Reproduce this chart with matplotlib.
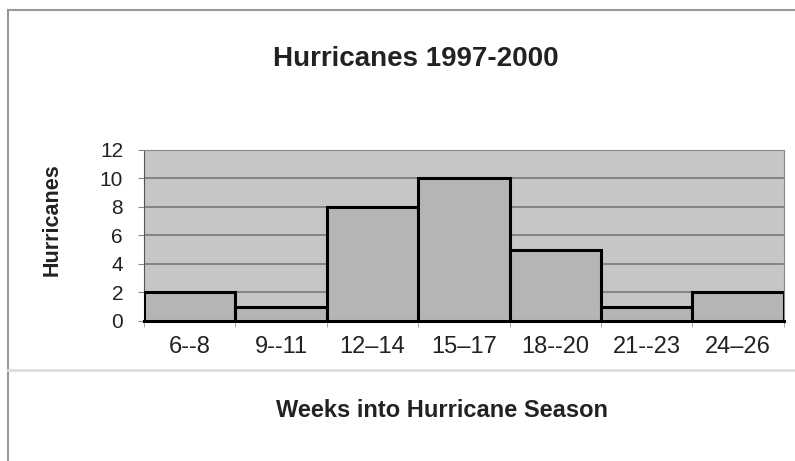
import numpy as np
import matplotlib.pyplot as plt
from matplotlib.lines import Line2D

plt.rcParams['font.family'] = ['Liberation Sans', 'DejaVu Sans']

# Data
weeks = ['6--8', '9--11', '12\u201314', '15\u201317', '18--20', '21--23', '24\u201326']
hurricanes = [2, 1, 8, 10, 5, 1, 2]

fig = plt.figure(figsize=(7.95, 4.61), dpi=100)
ax = fig.add_axes([0.181, 0.304, 0.805, 0.371])
ax.set_facecolor('#c6c6c6')

x = np.arange(len(weeks))
ax.bar(x, hurricanes, width=1.0, color='#b5b5b5', edgecolor='black', linewidth=2.2, zorder=3)

ax.set_xlim(-0.5, len(weeks) - 0.5)
ax.set_ylim(0, 12)
ax.set_yticks(range(0, 13, 2))
ax.yaxis.grid(True, color='#7f7f7f', linewidth=1.3, zorder=0)
ax.set_axisbelow(True)

ax.set_xticks(x)
ax.set_xticklabels(weeks, fontsize=17, color='#222222')
ax.set_xticks(np.arange(-0.5, len(weeks)), minor=True)
ax.tick_params(axis='x', which='major', length=0, pad=11)
ax.tick_params(axis='x', which='minor', length=4, color='#999999')
ax.tick_params(axis='y', labelsize=15, length=4, pad=11, color='#888888',
               labelcolor='#222222')

for s in ['top', 'right']:
    ax.spines[s].set_color('#888888')
ax.spines['left'].set_color('#555555')
ax.spines['bottom'].set_color('black')
ax.spines['bottom'].set_linewidth(2.2)

ax.set_ylabel('Hurricanes', fontsize=15.5, fontweight='bold', color='#222222',
              va='center')
ax.yaxis.set_label_coords(-0.144, 0.59)
fig.text(0.523, 0.872, 'Hurricanes 1997-2000', ha='center', va='center',
         fontsize=20, fontweight='bold', color='#222222')
fig.text(0.556, 0.11, 'Weeks into Hurricane Season', ha='center', va='center',
         fontsize=17, fontweight='bold', color='#222222')

# outer frame lines
fig.add_artist(Line2D([0.01, 0.01], [0.0, 0.978], color='#999999', linewidth=1.5))
fig.add_artist(Line2D([0.01, 1.0], [0.978, 0.978], color='#999999', linewidth=1.5))
fig.add_artist(Line2D([0.01, 1.0], [0.197, 0.197], color='#dddddd', linewidth=2))

fig.savefig('out.png', dpi=100)
